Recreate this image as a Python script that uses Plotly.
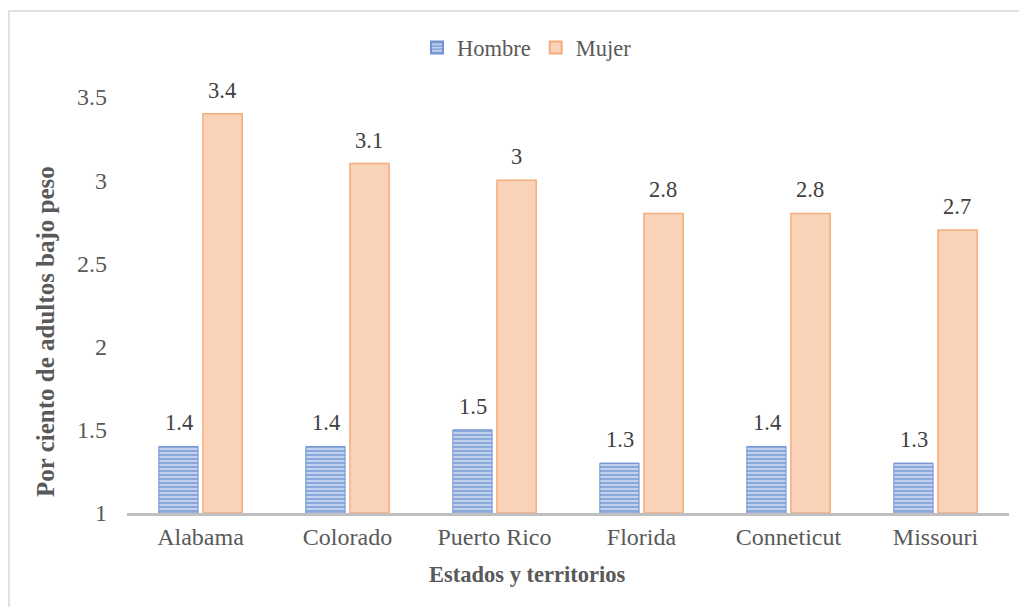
import plotly.graph_objects as go

categories = ["Alabama", "Colorado", "Puerto Rico", "Florida", "Conneticut", "Missouri"]
hombre = [1.4, 1.4, 1.5, 1.3, 1.4, 1.3]
mujer = [3.4, 3.1, 3.0, 2.8, 2.8, 2.7]
y_ticks = [1, 1.5, 2, 2.5, 3, 3.5]
y_tick_labels = ["1", "1.5", "2", "2.5", "3", "3.5"]
x_title = "Estados y territorios"
y_title = "Por ciento de adultos bajo peso"
AXIS_BASE = 1

FONT = "Liberation Serif, Times New Roman, serif"
TXT = "#595959"
FS = 22.5
FS_TICK = 24

fig = go.Figure()
fig.add_trace(go.Bar(
    name="Hombre", x=categories, y=[v - AXIS_BASE for v in hombre], base=AXIS_BASE,
    marker=dict(color="#d3def3", line=dict(color="#6f92d0", width=1),
                pattern=dict(shape="-", fgcolor="#4472C4", bgcolor="#d3def3", size=4, solidity=0.62)),
    hoverinfo="skip",
))
fig.add_trace(go.Bar(
    name="Mujer", x=categories, y=[v - AXIS_BASE for v in mujer], base=AXIS_BASE,
    marker=dict(color="#F9D2B8", line=dict(color="#F4AD7C", width=1.5)),
    hoverinfo="skip",
))

bargap = 0.4
slot_px = 146 * (1 - bargap) / 2
annotations = []
for i, c in enumerate(categories):
    for vals, sign in ((hombre, -1), (mujer, 1)):
        annotations.append(dict(
            x=c, y=vals[i], xref="x", yref="y", text=f"{vals[i]:g}", showarrow=False,
            xshift=sign * slot_px / 2, yanchor="bottom", yshift=9,
            font=dict(family=FONT, size=FS, color="#404040")))

annotations.append(dict(text=f"<b>{x_title}</b>", xref="paper", yref="paper", x=0.4535, y=-0.149,
                        xanchor="center", yanchor="middle", showarrow=False,
                        font=dict(family=FONT, size=FS, color=TXT)))
annotations.append(dict(text=f"<b>{y_title}</b>", xref="paper", yref="paper", x=-0.093, y=0.4375,
                        xanchor="center", yanchor="middle", showarrow=False, textangle=-90,
                        font=dict(family=FONT, size=25, color=TXT)))

fig.update_layout(
    width=1011, height=599,
    margin=dict(l=119, r=10, t=89, b=94, autoexpand=False),
    paper_bgcolor="white", plot_bgcolor="white",
    barmode="group", bargap=bargap, bargroupgap=0.11,
    font=dict(family=FONT, size=FS, color=TXT),
    showlegend=True,
    legend=dict(orientation="h", x=0.4535, xanchor="center", y=1.1178, yanchor="middle",
                font=dict(family=FONT, size=FS, color=TXT), itemwidth=30,
                traceorder="normal", tracegroupgap=0, itemsizing="constant"),
    xaxis=dict(showline=True, linecolor="#bfbfbf", linewidth=3, ticks="", automargin=False,
               tickfont=dict(family=FONT, size=FS_TICK, color=TXT)),
    yaxis=dict(range=[1, 3.5], tickvals=y_ticks, ticktext=y_tick_labels, showgrid=False,
               zeroline=False, showline=False, ticks="", ticklabelstandoff=19, automargin=False,
               tickfont=dict(family=FONT, size=FS_TICK, color=TXT)),
    annotations=annotations,
    shapes=[dict(type="rect", xref="paper", yref="paper", x0=-0.1338, x1=1.2, y0=-0.5, y1=1.2067,
                 line=dict(color="#d9d9d9", width=1.5), fillcolor="rgba(0,0,0,0)", layer="below")],
)

fig.write_html("out.html")
